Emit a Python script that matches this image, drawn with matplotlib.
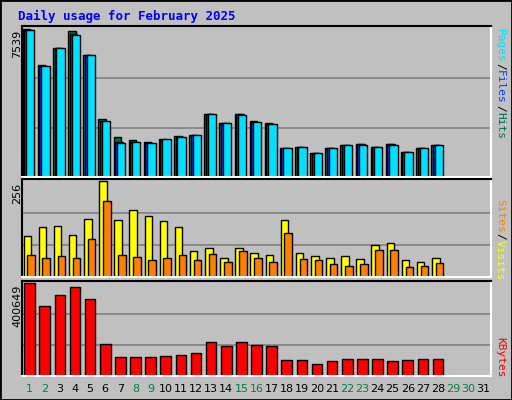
import matplotlib.pyplot as plt
import numpy as np

W, H = 512, 400
days = np.arange(1, 32)
weekend = [1, 2, 8, 9, 15, 16, 22, 23, 29, 30]

# pixel tops -> values
hits_px = [30, 66, 49, 32, 56, 119, 137, 140, 141, 139, 136, 135, 114, 123, 114, 121, 123,
           147, 146, 152, 147, 144, 143, 146, 143, 151, 147, 144]
files_px = [31, 67, 49, 35, 56, 121, 141, 141, 142, 140, 137, 135, 114, 123, 114, 122, 124,
            147, 146, 152, 147, 144, 143, 146, 143, 151, 147, 144]
pages_px = [31, 67, 49, 36, 56, 121, 142, 141, 142, 139, 137, 135, 114, 123, 115, 122, 124,
            147, 146, 152, 147, 144, 144, 146, 144, 151, 147, 144]
visits_px = [237, 228, 227, 236, 220, 184, 221, 212, 218, 222, 228, 251, 248, 258, 248, 253,
             255, 221, 253, 256, 258, 256, 259, 245, 243, 260, 262, 258]
sites_px = [255, 258, 256, 258, 240, 203, 255, 257, 260, 258, 255, 260, 254, 262, 251, 258,
            262, 234, 259, 260, 264, 265, 264, 250, 250, 266, 265, 263]
kb_px = [284, 307, 296, 288, 300, 344, 356, 356, 356, 355, 354, 353, 342, 346, 342, 345, 346,
         359, 359, 363, 360, 358, 358, 358, 360, 359, 358, 358]

hits = [(176 - y) / 146 * 7539 for y in hits_px]
files = [(176 - y) / 146 * 7539 for y in files_px]
pages = [(176 - y) / 146 * 7539 for y in pages_px]
visits = [(276 - y) / 92 * 256 for y in visits_px]
sites = [(276 - y) / 92 * 256 for y in sites_px]
kbytes = [(375 - y) / 91 * 400649 for y in kb_px]
d = np.arange(1, len(hits) + 1)

fig = plt.figure(figsize=(W / 100, H / 100), dpi=100, facecolor='#C0C0C0')
fig.patches.append(plt.Rectangle((0, 0), 1, 1, transform=fig.transFigure, fill=False,
                                 edgecolor='black', linewidth=2))
fig.text(18 / W, 1 - 16 / H, "Daily usage for February 2025", color='#0000FF',
         fontfamily='DejaVu Sans Mono', fontweight='bold', fontsize=9, va='center')


def panel(top, bot, ymax, label):
    ax = fig.add_axes([22 / W, 1 - bot / H, 469 / W, (bot - top) / H])
    ax.set_facecolor('#C0C0C0')
    ax.set_xlim(0.5, 31.5)
    ax.set_ylim(0, ymax * 1.02)
    for y in (ymax / 3, 2 * ymax / 3):
        ax.axhline(y, color='#808080', linewidth=1.2, zorder=0)
    ax.set_xticks([])
    ax.set_yticks([])
    for s in ('top', 'left'):
        ax.spines[s].set_color('black')
    for s in ('bottom', 'right'):
        ax.spines[s].set_color('white')
    for s in ax.spines.values():
        s.set_linewidth(1.5)
    fig.text(17 / W, 1 - (top + 4) / H, label, rotation=90, ha='center', va='top',
             fontsize=8)
    return ax


ax1 = panel(26, 177, 7539, "7539")
kw = dict(edgecolor='black', linewidth=1)
ax1.bar(d - 0.2, hits, 0.5, color='#006B54', **kw)
ax1.bar(d - 0.1, files, 0.5, color='#0040FF', **kw)
ax1.bar(d + 0.05, pages, 0.55, color='#00E0FF', **kw)

ax2 = panel(179, 277, 256, "256")
ax2.bar(d - 0.15, visits, 0.5, color='#FFFF00', **kw)
ax2.bar(d + 0.1, sites, 0.5, color='#FF8000', **kw)

ax3 = panel(281, 376, 400649, "400649")
ax3.bar(d, kbytes, 0.7, color='#FF0000', **kw)

for day in days:
    x = 22 / W + (day - 0.5) / 31 * 469 / W
    fig.text(x, 1 - 389 / H, str(day), ha='center', va='center', fontsize=8,
             color='#008040' if day in weekend else 'black')


def side(parts, ycenter, cw=6.9):
    # vertical right-hand legend, words stacked top to bottom
    total = sum(len(p) for p, _ in parts)
    y = ycenter - total * cw / 2
    for txt, col in parts:
        fig.text(500 / W, 1 - y / H, txt, rotation=-90, ha='center', va='top',
                 fontsize=8, color=col, fontfamily='DejaVu Sans Mono')
        y += len(txt) * cw


side([("Pages", '#00E0FF'), ("/", 'black'), ("Files", '#0040FF'), ("/", 'black'),
      ("Hits", '#006B54')], 84)
side([("Sites", '#FF8000'), ("/", 'black'), ("Visits", '#FFFF00')], 240)
side([("KBytes", '#FF0000')], 358)

fig.savefig('out.png', dpi=100, facecolor=fig.get_facecolor())
